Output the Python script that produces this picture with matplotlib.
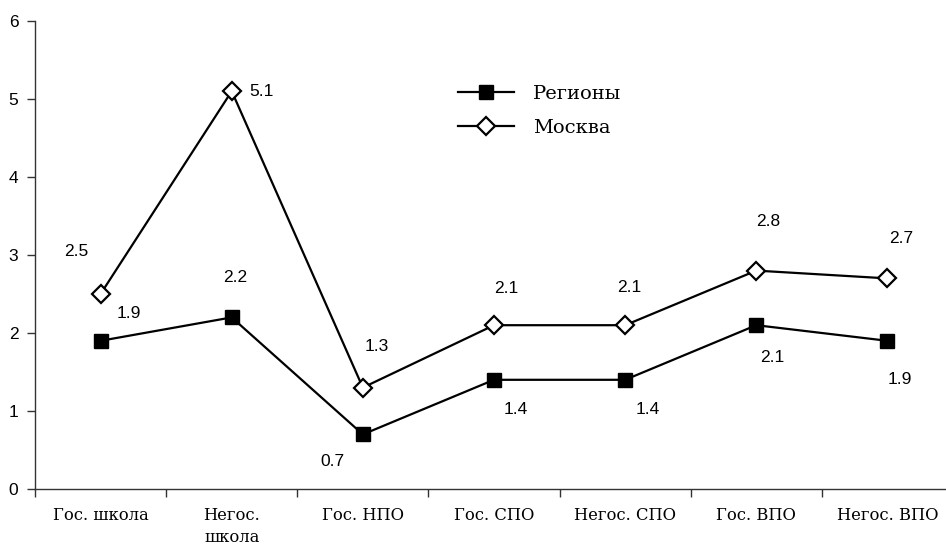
import numpy as np
import matplotlib
matplotlib.use('Agg')
import matplotlib.pyplot as plt

# data
categories = ['Гос. школа', 'Негос.\nшкола', 'Гос. НПО', 'Гос. СПО',
              'Негос. СПО', 'Гос. ВПО', 'Негос. ВПО']
regions = [1.9, 2.2, 0.7, 1.4, 1.4, 2.1, 1.9]
moscow = [2.5, 5.1, 1.3, 2.1, 2.1, 2.8, 2.7]

# label offsets in pixels (dx, dy), picked by eye
reg_off = [(28, 27), (3, 40), (-30, -27), (22, -30), (23, -30), (16, -32), (12, -39)]
msk_off = [(-24, 42), (30, 0), (14, 41), (12, 37), (4, 38), (12, 49), (14, 40)]

fig = plt.figure(figsize=(9.46, 5.45), dpi=100)
ax = fig.add_axes([35/946, 56/545, 918/946, 468/545])

x = np.arange(len(categories))
ax.plot(x, regions, color='black', lw=1.6, marker='s', markersize=10.5,
        markerfacecolor='black', markeredgecolor='black', label='Регионы')
ax.plot(x, moscow, color='black', lw=1.6, marker='D', markersize=9,
        markerfacecolor='white', markeredgecolor='black', markeredgewidth=1.6,
        label='Москва')

for i in range(len(x)):
    ax.annotate(f'{regions[i]:.1f}', (x[i], regions[i]), xytext=reg_off[i],
                textcoords='offset pixels', ha='center', va='center',
                fontsize=12.5, family='Liberation Sans')
    ax.annotate(f'{moscow[i]:.1f}', (x[i], moscow[i]), xytext=msk_off[i],
                textcoords='offset pixels', ha='center', va='center',
                fontsize=12.5, family='Liberation Sans')

ax.set_xlim(-0.5, len(categories) - 0.5)
ax.set_ylim(0, 6)
ax.set_yticks(range(7))
ax.set_xticks(x)
ax.set_xticklabels(categories, family='DejaVu Serif', fontsize=11.8,
                   linespacing=1.35)
ax.set_xticks(np.arange(len(categories) + 1) - 0.5, minor=True)
ax.tick_params(axis='x', which='major', length=0, pad=13)
ax.tick_params(axis='x', which='minor', length=6, width=1, color='#333333')
ax.tick_params(axis='y', length=6, width=1, color='#333333', pad=6)
for lab in ax.get_yticklabels():
    lab.set_family('Liberation Sans')
    lab.set_fontsize(12.5)

for s in ['top', 'right']:
    ax.spines[s].set_visible(False)
for s in ['left', 'bottom']:
    ax.spines[s].set_color('#333333')
    ax.spines[s].set_linewidth(1)

leg = ax.legend(loc='upper left', bbox_to_anchor=(440/946, 1 - 67/545),
                bbox_transform=fig.transFigure, frameon=False,
                prop={'family': 'DejaVu Serif', 'size': 14},
                handlelength=2.9, handletextpad=1.0, labelspacing=0.85)

fig.savefig('out.png', dpi=100)
